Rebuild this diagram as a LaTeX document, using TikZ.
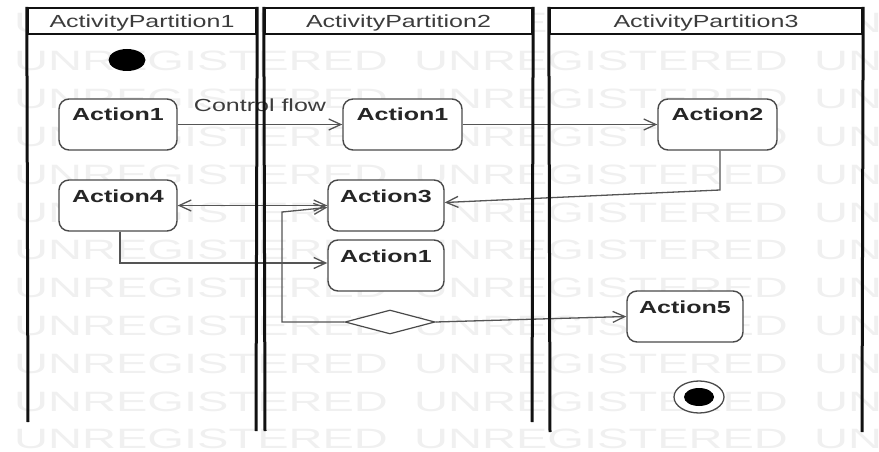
\documentclass[tikz,border=0pt]{standalone}
\usepackage{fontspec}
\setmainfont{Liberation Sans}[FakeStretch=1.43]
\newfontfamily\wmfont{Liberation Sans}[FakeStretch=1.68]
\usetikzlibrary{arrows.meta,shapes.geometric}
\definecolor{lanecol}{HTML}{111111}
\definecolor{flowcol}{HTML}{555555}
\definecolor{boxcol}{HTML}{4A4A4A}
\definecolor{wmcol}{HTML}{F0F0F0}
\definecolor{hdrtext}{HTML}{3C3C3C}
\begin{document}
\begin{tikzpicture}[x=1pt,y=-1pt,
  >={Straight Barb[length=12pt,width=11pt]},
  lane/.style={line width=3pt, draw=lanecol},
  hdrbox/.style={draw=lanecol, line width=2.4pt, fill=white, minimum height=26pt,
    text height=12.5pt, text depth=0pt, inner sep=0pt, text=hdrtext,
    font=\fontsize{17.5pt}{20pt}\selectfont},
  action/.style={draw=boxcol, line width=1.4pt, fill=white, rounded corners=10pt,
    minimum width=118pt, inner xsep=0pt, inner ysep=0pt, text height=22pt, text depth=29pt,
    font=\fontsize{17.5pt}{20pt}\selectfont\bfseries, text=black!85},
  flow/.style={draw=flowcol, line width=1.3pt, ->},
  flowlbl/.style={text=hdrtext, font=\fontsize{17.5pt}{20pt}\selectfont, anchor=base, inner sep=0pt},
  wm/.style={anchor=base west, inner sep=0pt, text=wmcol, font=\wmfont\fontsize{28pt}{30pt}\selectfont}
]
\useasboundingbox (0,0) rectangle (879,452);
% watermark
\begin{scope}
\clip (0,0) rectangle (879,452);
\foreach \r in {0,...,11} {
  \foreach \c in {0,1,2} {
    \node[wm] (wm-\r-\c) at ({14+400*\c},{33+37.8*\r}) {UNREGISTERED};
  }
}
\end{scope}
% headers
\node[hdrbox, minimum width=228pt] (h1) at (142,21) {ActivityPartition1};
\node[hdrbox, minimum width=267pt] (h2) at (398.5,21) {ActivityPartition2};
\node[hdrbox, minimum width=312pt] (h3) at (706,21) {ActivityPartition3};
% nodes
\node[ellipse, fill=black, minimum width=37pt, minimum height=22pt, inner sep=0pt] (init) at (127,60) {};
\node[action] (a1) at (118,124.5) {Action1};
\node[action, minimum width=119pt] (b1) at (402.5,124.5) {Action1};
\node[action, minimum width=119pt] (a2) at (717.5,124.5) {Action2};
\node[action] (a4) at (118,205.5) {Action4};
\node[action, minimum width=116pt] (a3) at (386,205.5) {Action3};
\node[action, minimum width=116pt] (c1) at (386,265.5) {Action1};
\node[action, minimum width=116pt] (a5) at (685,316.5) {Action5};
\node[diamond, draw=boxcol, line width=1.2pt, fill=white, minimum width=90pt, minimum height=24pt, inner sep=0pt] (dec) at (390,322) {};
\node[ellipse, draw=boxcol, line width=1.3pt, fill=white, minimum width=50pt, minimum height=32pt, inner sep=0pt] (fin) at (699,397) {};
\node[ellipse, fill=black, minimum width=30pt, minimum height=18pt, inner sep=0pt] (finin) at (fin.center) {};
% connectors
\draw[flow] (a1.east) -- node[flowlbl, midway, yshift=13.5pt] (cflbl) {Control flow} (b1.west);
\draw[flow] (b1.east) -- (a2.west);
\coordinate (k1) at (720,190);
\draw[flow] ([xshift=2.5pt]a2.south) -- (k1) -- ([yshift=3pt]a3.east);
\draw[flow, <->] (a3.west) -- (a4.east);
\draw[flow] ([xshift=2pt]a4.south) |- ([yshift=2.5pt]c1.west);
\coordinate (k2) at (282,212);
\draw[flow] (dec.west) -| (k2) -- ([yshift=-2pt]a3.west);
\draw[flow] (dec.east) -- (a5.west);
% lanes
\draw[lane] (h1.north west) -- (28,422);
\draw[lane] (h1.north east) -- (256,431);
\draw[lane] (h2.north west) -- (265,431);
\draw[lane] (h2.north east) -- (532,422);
\draw[lane] (h3.north west) -- (550,432);
\draw[lane] (h3.north east) -- (862,432);
\end{tikzpicture}
\end{document}
